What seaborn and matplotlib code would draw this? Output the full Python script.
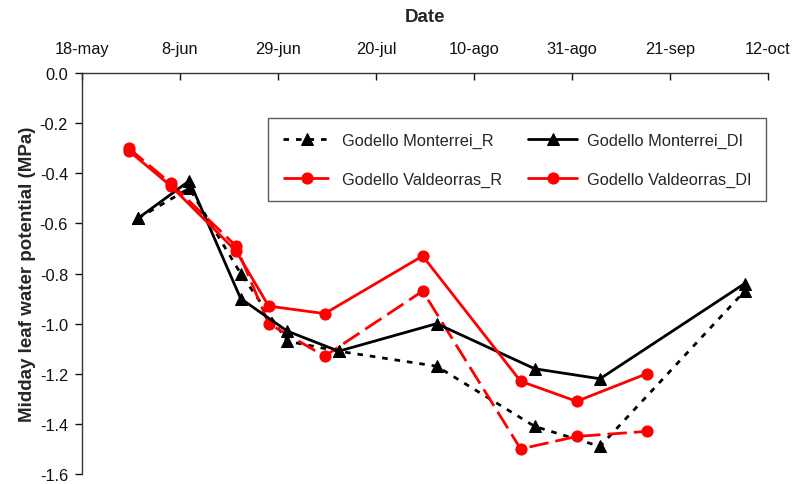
import pandas as pd
import matplotlib.pyplot as plt
import seaborn as sns

# ================= DATOS =================
fechas_monterrei = ['2009-05-30', '2009-06-10', '2009-06-21', '2009-07-01', '2009-07-12',
                    '2009-08-02', '2009-08-23', '2009-09-06', '2009-10-07']
monterrei_r = [-0.58, -0.46, -0.80, -1.07, -1.11, -1.17, -1.41, -1.49, -0.87]
monterrei_di = [-0.58, -0.43, -0.90, -1.03, -1.11, -1.00, -1.18, -1.22, -0.84]

fechas_valdeorras = ['2009-05-28', '2009-06-06', '2009-06-20', '2009-06-27', '2009-07-09',
                     '2009-07-30', '2009-08-20', '2009-09-01', '2009-09-16']
valdeorras_r = [-0.30, -0.44, -0.69, -1.00, -1.13, -0.87, -1.50, -1.45, -1.43]
valdeorras_di = [-0.31, -0.45, -0.71, -0.93, -0.96, -0.73, -1.23, -1.31, -1.20]

ticks_fecha = ['2009-05-18', '2009-06-08', '2009-06-29', '2009-07-20', '2009-08-10',
               '2009-08-31', '2009-09-21', '2009-10-12']
ticks_etiqueta = ['18-may', '8-jun', '29-jun', '20-jul', '10-ago', '31-ago', '21-sep', '12-oct']

# ================= ESTILO =================
sns.set_style("white")
plt.rcParams['font.family'] = ['Liberation Sans', 'DejaVu Sans']

fig = plt.figure(figsize=(7.93, 4.85), dpi=100)
ax = fig.add_axes([0.1034, 0.0206, 0.8651, 0.8268])

series = [
    ('Godello Monterrei_R', fechas_monterrei, monterrei_r, 'black', (0, (2, 2.5)), '^'),
    ('Godello Valdeorras_R', fechas_valdeorras, valdeorras_r, 'red', (0, (7, 2.5)), 'o'),
    ('Godello Monterrei_DI', fechas_monterrei, monterrei_di, 'black', '-', '^'),
    ('Godello Valdeorras_DI', fechas_valdeorras, valdeorras_di, 'red', '-', 'o'),
]

for nombre, fechas, valores, color, estilo, marcador in series:
    df = pd.DataFrame({'fecha': pd.to_datetime(fechas), 'psi': valores})
    sns.lineplot(data=df, x='fecha', y='psi', ax=ax, color=color, linestyle=estilo,
                 marker=marcador, markersize=8, markeredgecolor=color,
                 linewidth=2, label=nombre)

# ================= EJES =================
ax.set_xlim(pd.Timestamp('2009-05-18'), pd.Timestamp('2009-10-12'))
ax.set_ylim(-1.6, 0.0)
ax.xaxis.tick_top()
ax.xaxis.set_label_position('top')
ax.set_xticks(pd.to_datetime(ticks_fecha))
ax.set_xticklabels(ticks_etiqueta)
ax.set_yticks([0.0, -0.2, -0.4, -0.6, -0.8, -1.0, -1.2, -1.4, -1.6])
ax.yaxis.set_major_formatter(plt.FuncFormatter(lambda v, p: f'{v:.1f}'))

ax.tick_params(axis='x', direction='in', length=5, width=1, pad=12, labelsize=11.8,
               colors='#111111', top=True, bottom=False)
ax.tick_params(axis='y', direction='out', length=5, width=1, pad=5, labelsize=11.8,
               colors='#111111', left=True)

for lado in ['right', 'bottom']:
    ax.spines[lado].set_visible(False)
for lado in ['left', 'top']:
    ax.spines[lado].set_color('#333333')
    ax.spines[lado].set_linewidth(1)

ax.set_xlabel('Date', fontsize=13.5, fontweight='bold', labelpad=15)
ax.set_ylabel('Midday leaf water potential (MPa)', fontsize=13.5, fontweight='bold', labelpad=3)

leg = ax.legend(ncol=2, loc='upper left', bbox_to_anchor=(0.271, 0.888), borderaxespad=0,
                frameon=True, fancybox=False, edgecolor='#333333', fontsize=11.8,
                handlelength=3.0, handletextpad=0.6, columnspacing=1.6,
                borderpad=0.9, labelspacing=1.45)
leg.get_frame().set_linewidth(1)

plt.savefig('out.png', dpi=100)
